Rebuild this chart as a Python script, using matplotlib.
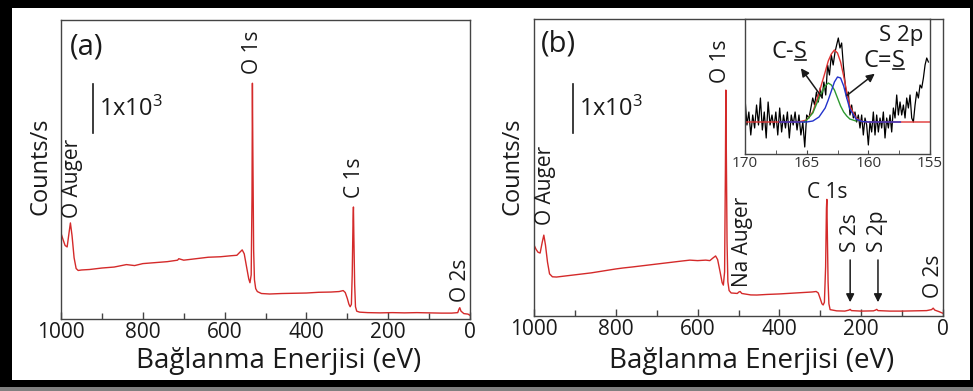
import numpy as np
import matplotlib.pyplot as plt
from matplotlib.patches import Rectangle
from matplotlib.lines import Line2D

plt.rcParams['font.family'] = ['Open Sans', 'DejaVu Sans']
plt.rcParams['mathtext.default'] = 'regular'

# survey spectrum (a)
energy_a = [1000, 995, 990, 985, 980, 977, 973, 968, 963, 958, 950, 930, 900, 870,
            840, 820, 800, 770, 740, 715, 712, 700, 670, 640, 610, 585, 570, 563,
            557, 552, 546, 541, 538, 535, 533, 532, 531, 529, 527, 524, 520, 510,
            490, 460, 430, 400, 370, 340, 320, 310, 305, 300, 296, 293, 290, 288,
            286, 285, 284, 282, 280, 277, 270, 250, 220, 190, 160, 130, 100, 70,
            45, 30, 27, 25, 22, 15, 5, 0]
counts_a = [1750, 1620, 1500, 1470, 1780, 1960, 1700, 1250, 1030, 990, 1000, 1010,
            1040, 1060, 1110, 1090, 1130, 1150, 1170, 1200, 1230, 1200, 1230, 1260,
            1270, 1290, 1300, 1360, 1410, 1330, 1050, 820, 740, 900, 2500, 4810,
            3500, 1400, 800, 620, 560, 520, 510, 520, 525, 530, 545, 550, 560, 580,
            540, 420, 300, 250, 300, 900, 2000, 2285, 1700, 700, 250, 160, 140, 130,
            125, 130, 125, 130, 125, 120, 120, 130, 200, 230, 160, 110, 100, 75]

# survey spectrum (b)
energy_b = [1000, 995, 990, 985, 980, 976, 972, 967, 962, 955, 945, 920, 890, 860,
            830, 800, 782, 760, 730, 700, 670, 640, 619, 600, 580, 570, 563, 556,
            551, 545, 540, 537, 534, 532, 531, 530, 528, 526, 523, 518, 510, 503,
            499, 496, 492, 485, 470, 455, 430, 400, 370, 340, 320, 310, 305, 300,
            296, 293, 290, 287, 285, 284, 283, 281, 279, 276, 260, 240, 230, 227,
            224, 200, 170, 165, 162, 159, 130, 100, 70, 40, 28, 24, 20, 10, 0]
counts_b = [1450, 1360, 1300, 1285, 1500, 1650, 1450, 1100, 860, 800, 795, 820,
            850, 880, 920, 960, 980, 1000, 1030, 1060, 1090, 1120, 1140, 1130, 1140,
            1130, 1180, 1225, 1150, 900, 680, 630, 900, 3000, 4610, 3600, 1500, 700,
            520, 470, 465, 460, 490, 500, 460, 450, 430, 428, 440, 450, 465, 480,
            490, 500, 470, 350, 250, 225, 280, 1000, 2200, 2380, 1800, 700, 250, 130,
            105, 100, 120, 135, 110, 100, 105, 120, 135, 110, 100, 100, 105, 110,
            130, 160, 120, 90, 55]

scale_bar = 1000

# S 2p high resolution region (inset)
s2p_raw_1 = [24, -3, 10, -13, 7, -6, 17, -3, 24, -8, 10, -16, 20, -3, 7, -6, 10,
             -13, 14, -10, 7, -6, 10, -16, 7, -3, 10, -8, 7, -13, 0, -25, 7]
s2p_raw_2 = [4, 14, 24, 17, 30, 20, 34, 24, 40, 27, 57, 47, 67, 57, 70]
s2p_raw_3 = [77, 84, 74, 79, 57, 40, 24, 30, 7, 17, 4, 10, 0, 7, -6, 7, -13, 4, -3,
             -23, 0, -10, 10, -13, 7, -10, 4, -6, 10, -16, 4, -6, 7, -10, 14, 4, 27,
             7, 20, 7, 17, 4, 24, 14, 27, 4, 0, 17, 30, 24, 37, 34, 44, 57, 64, 60]
s2p_e = np.concatenate([np.linspace(170, 165, len(s2p_raw_1)),
                        np.linspace(164.81, 162.70, len(s2p_raw_2)),
                        np.linspace(162.57, 155.13, len(s2p_raw_3))])
s2p_raw = s2p_raw_1 + s2p_raw_2 + s2p_raw_3

fit_e = [170, 166, 165.5, 165, 164.5, 164, 163.5, 163.25, 163, 162.75, 162.5,
         162.25, 162, 161.75, 161.5, 161, 160.5, 160, 155]
fit_sum = [0, 0, 0.5, 2, 10, 29, 50, 61, 68, 72, 69, 60, 46, 30, 16, 4, 0.5, 0, 0]
cs_e = [165.2, 165, 164.5, 164, 163.5, 163.25, 163, 162.75, 162.5, 162.25, 162,
        161.75, 161.5, 161]
cs_fit = [0, 2, 9, 24, 36, 39, 37, 32, 24, 16, 10, 6, 3, 1]
c2s_e = [167.2, 166, 165, 164.5, 164, 163.5, 163.25, 163, 162.75, 162.5, 162.25,
         162, 161.75, 161.5, 161, 160.5, 160, 157.4]
c2s_fit = [0, 0, 0, 1, 5, 14, 22, 31, 40, 45, 44, 36, 24, 13, 3, 0.5, 0, 0]

W, H = 973, 391
RED = '#d42a2a'
INK = '#1a1a1a'
SPINE = '#444444'


def fx(x):
    return x / W


def fy(y):
    return 1 - y / H


def box(l, t, r, b):
    return [fx(l), fy(b), (r - l) / W, (b - t) / H]


fig = plt.figure(figsize=(W / 100, H / 100), dpi=100)
fig.patch.set_facecolor('black')
fig.patches.append(Rectangle((fx(12), fy(380)), (970 - 12) / W, (380 - 8) / H,
                             transform=fig.transFigure, facecolor='white',
                             edgecolor='none', zorder=-10))
fig.patches.append(Rectangle((0, 0), 1, 4.5 / H, transform=fig.transFigure,
                             facecolor='#808080', edgecolor='none', zorder=-10))


def survey(ax, e, c, ytop):
    ax.set_facecolor('none')
    ax.plot(e, c, color=RED, lw=1.0)
    ax.set_xlim(1000, 0)
    ax.set_ylim(0, ytop)
    ax.set_yticks([])
    ax.set_xticks([1000, 800, 600, 400, 200, 0])
    ax.set_xticks([900, 700, 500, 300, 100], minor=True)
    ax.tick_params(axis='x', which='both', direction='in', top=False,
                   colors=SPINE, labelcolor=INK, labelsize=15, pad=2)
    ax.tick_params(axis='x', which='major', length=5, width=1)
    ax.tick_params(axis='x', which='minor', length=4, width=1)
    for s in ax.spines.values():
        s.set_color(SPINE)
        s.set_linewidth(1.0)


ax_a = fig.add_axes(box(61, 20, 470, 319))
survey(ax_a, energy_a, counts_a, 6100)
ax_b = fig.add_axes(box(534, 19, 943, 316))
survey(ax_b, energy_b, counts_b, 6060)

# scale bars
ax_a.plot([922, 922], [3800, 3800 + scale_bar], color=INK, lw=1.2)
ax_b.plot([905, 905], [3730, 3730 + scale_bar], color=INK, lw=1.2)
fig.text(fx(99), fy(109), r'1x10$^{3}$', fontsize=17, color=INK, va='center')
fig.text(fx(579), fy(109), r'1x10$^{3}$', fontsize=17, color=INK, va='center')

fig.text(fx(70), fy(47), '(a)', fontsize=21, color=INK, va='center')
fig.text(fx(541), fy(44), '(b)', fontsize=21, color=INK, va='center')

for xl in (40, 513):
    fig.text(fx(xl), fy(166), 'Counts/s', fontsize=17, color=INK, rotation=90,
             ha='center', va='center')
for xc in (279, 752):
    fig.text(fx(xc), fy(361), 'Bağlanma Enerjisi (eV)', fontsize=20, color=INK,
             ha='center', va='center')

# peak labels
lab = dict(fontsize=15, color=INK, rotation=90, ha='center', va='bottom')
ax_a.text(973, 2060, 'O Auger', **lab)
ax_a.text(533, 5000, 'O 1s', **lab)
ax_a.text(283.6, 2470, 'C 1s', **lab)
ax_a.text(24.4, 350, 'O 2s', **lab)

ax_b.text(973, 1860, 'O Auger', **lab)
ax_b.text(545, 4750, 'O 1s', **lab)
ax_b.text(491, 590, 'Na Auger', **lab)
ax_b.text(283.6, 2510, 'C 1s', fontsize=15, color=INK, ha='center', va='center')
ax_b.text(227, 1310, 'S 2s', **lab)
ax_b.text(159, 1310, 'S 2p', **lab)
ax_b.text(24, 370, 'O 2s', **lab)
arr = dict(arrowstyle='-|>', color=INK, lw=1.1, mutation_scale=12)
ax_b.annotate('', xy=(227, 224), xytext=(227, 1200), arrowprops=arr)
ax_b.annotate('', xy=(159, 224), xytext=(159, 1200), arrowprops=arr)

# inset: S 2p region with fitted components
ins = fig.add_axes(box(745, 19, 930, 154))
ins.set_facecolor('white')
ins.plot(s2p_e, s2p_raw, color='black', lw=0.9)
ins.plot(fit_e, fit_sum, color='#e03434', lw=1.0)
ins.plot(cs_e, cs_fit, color='#2e9a30', lw=1.0)
ins.plot(c2s_e, c2s_fit, color='#2233cc', lw=1.0)
ins.set_xlim(170, 155)
ins.set_ylim(-32, 103)
ins.set_yticks([])
ins.set_xticks([170, 165, 160, 155])
ins.set_xticks([167.5, 162.5, 157.5], minor=True)
ins.tick_params(axis='x', which='both', direction='in', colors=SPINE,
                labelcolor='#333333', labelsize=11, pad=1.5, length=3)
for s in ins.spines.values():
    s.set_color(SPINE)
    s.set_linewidth(1.0)

ins.text(157.3, 87, 'S 2p', fontsize=16, color=INK, ha='center', va='center')

# bond labels, sulfur underlined
bond_labels = []
for x0, y0, head in [(166.05, 70, 'C-'), (158.1, 61, 'C=')]:
    ins.text(x0, y0, head, fontsize=17, color=INK, ha='right', va='center')
    bond_labels.append(ins.text(x0, y0, 'S', fontsize=17, color=INK,
                                ha='left', va='center'))

arr2 = dict(arrowstyle='-|>', color=INK, lw=1.1, mutation_scale=12)
ins.annotate('', xy=(165.6, 56), xytext=(163.6, 22), arrowprops=arr2)
ins.annotate('', xy=(159.3, 50), xytext=(161.9, 25), arrowprops=arr2)

fig.canvas.draw()
for t in bond_labels:
    bb = t.get_window_extent().transformed(fig.transFigure.inverted())
    yl = bb.y0 + 0.18 * bb.height
    fig.add_artist(Line2D([bb.x0 + 0.1 * bb.width, bb.x1 - 0.05 * bb.width],
                          [yl, yl], transform=fig.transFigure, color=INK, lw=1.2))

fig.savefig('out.png', dpi=100, facecolor=fig.get_facecolor())
